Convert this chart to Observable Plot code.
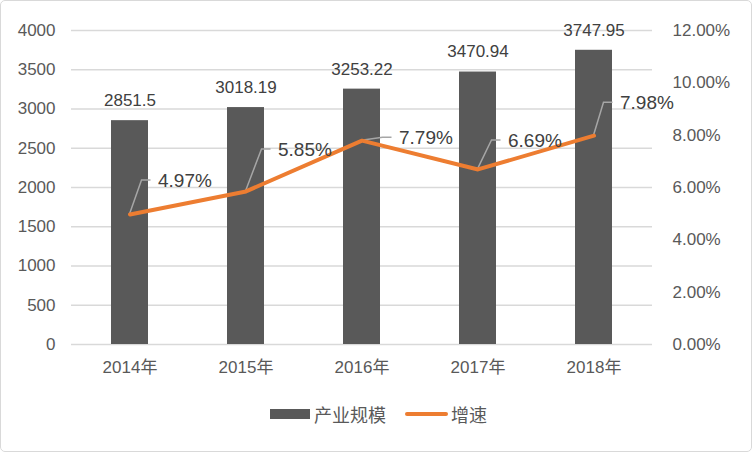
<!DOCTYPE html>
<html><head><meta charset="utf-8">
<script src="https://cdn.jsdelivr.net/npm/d3@7"></script>
<script src="https://cdn.jsdelivr.net/npm/@observablehq/plot@0.6"></script>
<style>
body{margin:0;background:#fff;font-family:"Liberation Sans","Noto Sans CJK SC",sans-serif;}
#wrap{position:relative;width:752px;height:452px;overflow:hidden;background:#fff;}
#frame{position:absolute;left:0;top:0;width:752px;height:452px;box-sizing:border-box;border:1.5px solid #d9d9d9;border-radius:5px;pointer-events:none;}
#legend{position:absolute;left:270px;top:402px;height:24px;display:flex;align-items:center;font-size:18px;color:#595959;}
#legend .sw{width:40px;height:10px;background:#595959;margin-right:4px;}
#legend .ln{width:43px;height:4px;background:#ED7D31;border-radius:2px;margin-left:19px;margin-right:3px;}
</style>
</head><body>
<div id="wrap"><div id="chart"></div><div id="legend"><div class="sw"></div><span>产业规模</span><div class="ln"></div><span>增速</span></div><div id="frame"></div></div>
<script>
const years = ["2014年","2015年","2016年","2017年","2018年"];
const scaleValues = [2851.5, 3018.19, 3253.22, 3470.94, 3747.95];
const growth = [4.97, 5.85, 7.79, 6.69, 7.98];
const leftTicks = [0,500,1000,1500,2000,2500,3000,3500,4000];
const rightTicks = [0,2,4,6,8,10,12];
const labelDx = [28,32,37,30,26];
const labelDy = [-34,-42,-3,-29,-33];

const leftMax = 4000, rightMax = 12;
const toY = r => r * leftMax / rightMax;
const data = years.map((y,i)=>({year:y, value:scaleValues[i], rate:growth[i]}));

const chart = Plot.plot({
  width: 752, height: 395,
  marginLeft: 71, marginRight: 100, marginTop: 30, marginBottom: 51,
  style: {fontFamily: '"Liberation Sans","Noto Sans CJK SC",sans-serif', color: "#595959", background: "transparent"},
  x: {domain: years, paddingInner: 0.68, paddingOuter: 0.34, axis: null},
  y: {domain: [0, leftMax], axis: null},
  marks: [
    Plot.gridY(leftTicks, {stroke: "#d9d9d9", strokeOpacity: 1, strokeWidth: 1.3}),
    Plot.axisY(leftTicks, {anchor: "left", tickSize: 0, tickPadding: 16, fontSize: 17, label: null, tickFormat: d => String(d)}),
    Plot.axisY(rightTicks.map(toY), {anchor: "right", tickSize: 0, tickPadding: 20, fontSize: 17, label: null,
      tickFormat: d => (d * rightMax / leftMax).toFixed(2) + "%"}),
    Plot.axisX({tickSize: 0, tickPadding: 16, fontSize: 17, label: null}),
    Plot.barY(data, {x: "year", y: "value", fill: "#595959"}),
    Plot.line(data, {x: "year", y: d => toY(d.rate), stroke: "#ED7D31", strokeWidth: 4, strokeLinejoin: "round", strokeLinecap: "round"}),
    Plot.text(data, {x: "year", y: "value", text: d => String(d.value), dy: -20, fontSize: 17, fill: "#404040"}),
    ...data.map((d,i) => Plot.text([d], {x: "year", y: d => toY(d.rate), text: d => d.rate.toFixed(2) + "%",
      dx: labelDx[i], dy: labelDy[i], textAnchor: "start", fontSize: 19, fill: "#404040"}))
  ]
});
document.getElementById("chart").appendChild(chart);

// leader lines from points to percentage labels
const xs = chart.scale("x"), ys = chart.scale("y");
const ns = "http://www.w3.org/2000/svg";
const g = document.createElementNS(ns, "g");
data.forEach((d,i) => {
  const px = xs.apply(d.year) + xs.bandwidth / 2;
  const py = ys.apply(toY(d.rate));
  const p = document.createElementNS(ns, "path");
  p.setAttribute("d", `M${px},${py}L${px+labelDx[i]-16},${py+labelDy[i]}L${px+labelDx[i]-7},${py+labelDy[i]}`);
  p.setAttribute("fill", "none");
  p.setAttribute("stroke", "#a6a6a6");
  p.setAttribute("stroke-width", "1.5");
  g.appendChild(p);
});
const lineG = chart.querySelector('g[aria-label="line"]');
if (lineG) lineG.parentNode.insertBefore(g, lineG); else chart.appendChild(g);
</script>
</body></html>
